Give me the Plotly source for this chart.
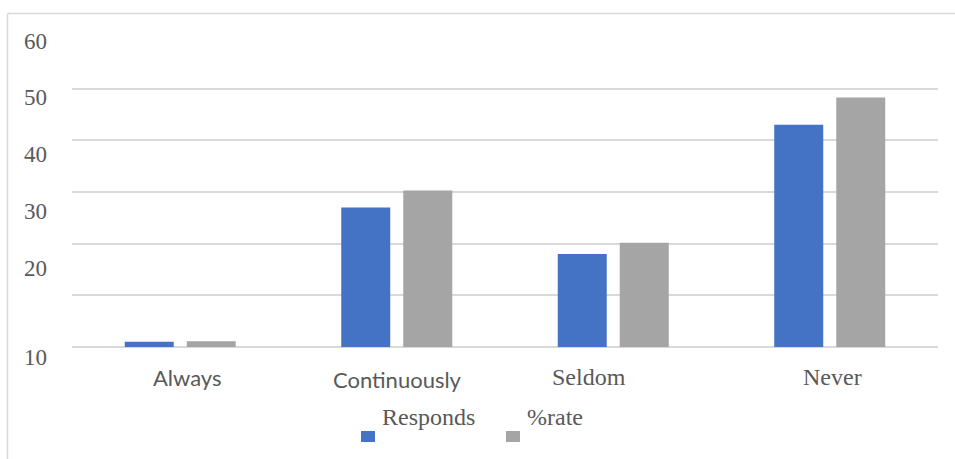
import plotly.graph_objects as go

# Survey answers and their share of all responses
categories = ["Always", "Continuously", "Seldom", "Never"]
responds = [1, 27, 18, 43]
rate_pct = [1.1, 30.3, 20.2, 48.3]
y_tick_labels = ["60", "50", "40", "30", "20", "10"]
legend_names = ["Responds", "%rate"]

W, H = 955, 459
L, R, T, B = 72, 938, 37, 347          # plot area in pixels
BLUE, GREY = "#4472C4", "#A5A5A5"
TXT = "#595959"
SERIF = "Liberation Serif"
SANS = "Lato"


def px(x):
    return (x - L) / (R - L)


def py(y):
    return (B - y) / (B - T)


fig = go.Figure()
fig.add_trace(go.Bar(x=categories, y=responds, name=legend_names[0],
                     marker=dict(color=BLUE, line_width=0)))
fig.add_trace(go.Bar(x=categories, y=rate_pct, name=legend_names[1],
                     marker=dict(color=GREY, line_width=0)))

annotations = []
# value labels on the left, set in a serif face
label_y = [41, 97, 154, 211, 268, 357]
for txt, yy in zip(y_tick_labels, label_y):
    annotations.append(dict(x=px(48.5), y=py(yy), xref="paper", yref="paper",
                            text=txt, showarrow=False, xanchor="right",
                            yanchor="middle",
                            font=dict(family=SERIF, size=23, color=TXT)))

# category names under each group
cat_x = [187.5, 397.5, 589, 832.5]
cat_y = [377, 379, 377, 377]
cat_font = [SANS, SANS, SERIF, SERIF]
cat_size = [22, 22, 24, 24]
for name, xx, yy, fam, sz in zip(categories, cat_x, cat_y, cat_font, cat_size):
    annotations.append(dict(x=px(xx), y=py(yy), xref="paper", yref="paper",
                            text=name, showarrow=False, xanchor="center",
                            yanchor="middle",
                            font=dict(family=fam, size=sz, color=TXT)))

# legend: text sits above and to the right of each swatch
shapes = []
legend_sw = [(361, BLUE), (506, GREY)]
legend_tx = [380, 525]
for (sx, col), tx, name in zip(legend_sw, legend_tx, legend_names):
    shapes.append(dict(type="rect", xref="paper", yref="paper",
                       x0=px(sx), x1=px(sx + 14), y0=py(442), y1=py(431),
                       fillcolor=col, line_width=0))
    annotations.append(dict(x=px(tx), y=py(417), xref="paper", yref="paper",
                            text=name, showarrow=False, xanchor="left",
                            yanchor="middle",
                            font=dict(family=SERIF, size=24, color=TXT)))

# outer frame (top and left edges)
shapes.append(dict(type="line", xref="paper", yref="paper",
                   x0=px(8), x1=px(W + 5), y0=py(13.5), y1=py(13.5),
                   line=dict(color="#D9D9D9", width=1.5)))
shapes.append(dict(type="line", xref="paper", yref="paper",
                   x0=px(7.5), x1=px(7.5), y0=py(13.5), y1=py(H + 5),
                   line=dict(color="#D9D9D9", width=1.5)))

fig.update_layout(
    width=W, height=H,
    margin=dict(l=L, r=W - R, t=T, b=H - B, pad=0),
    paper_bgcolor="white", plot_bgcolor="white",
    barmode="group", bargap=0.427, bargroupgap=0.21,
    showlegend=False,
    annotations=annotations, shapes=shapes,
    xaxis=dict(showticklabels=False, showgrid=False, zeroline=False,
               showline=False, ticks=""),
    yaxis=dict(range=[0, 60], dtick=10, showticklabels=False,
               showgrid=True, gridcolor="#D9D9D9", gridwidth=1.5,
               zeroline=True, zerolinecolor="#D9D9D9", zerolinewidth=2,
               showline=False, ticks=""),
)

fig.write_html("out.html")
